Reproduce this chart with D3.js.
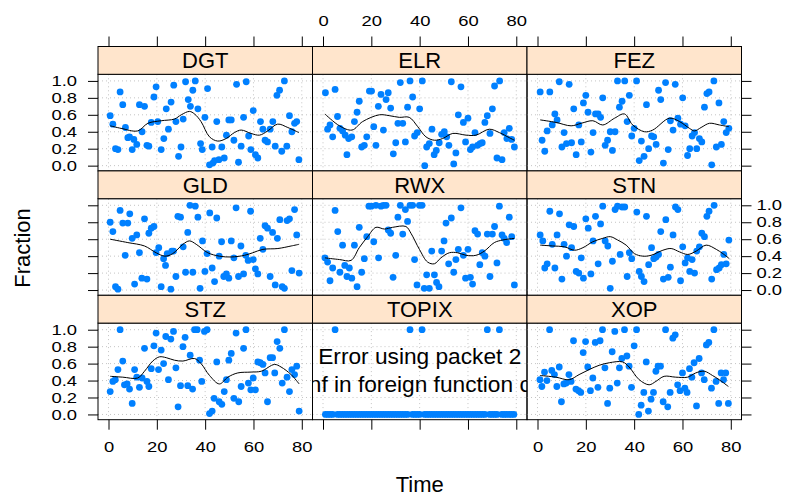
<!DOCTYPE html>
<html><head><meta charset="utf-8">
<script src="https://cdn.jsdelivr.net/npm/d3@7"></script>
<style>
body{margin:0;background:#fff}
svg{display:block}
text{font-family:"Liberation Sans",Arial,Helvetica,sans-serif;fill:#000}
</style>
</head><body>
<svg id="chart" width="793" height="496"></svg>
<script>
// ---- data: [Time, Fraction] per ticker, plus the smoothed trend for each ----
const panelNames = ["DGT","ELR","FEZ","GLD","RWX","STN","STZ","TOPIX","XOP"];
const xTicks = [0,20,40,60,80];
const yTicks = [0,0.2,0.4,0.6,0.8,1.0];

const dgtPoints = [[0.7,.59],[1.8,.49],[2.9,.20],[3.9,.19],[4.8,.87],[5.9,.72],[7,.45],[8,.33],[8.7,.34],[9.8,.19],[10.5,.31],[11.7,.25],[12.8,.72],[13.9,.40],[14.9,.70],[15.9,.24],[16.7,.23],[17.7,.51],[18.8,.81],[19.7,.93],[20.4,.52],[21.8,.19],[22.9,.32],[23.9,.67],[24.8,.43],[25.9,.75],[27,.95],[27.9,.52],[29,.11],[30,.22],[30.9,.55],[31.9,.99],[33,.78],[33.9,.70],[34.9,.89],[35.9,1.0],[37,.67],[38.1,.26],[38.8,.19],[39.9,.57],[41,.91],[41.8,.01],[42.9,.22],[43.2,.03],[43.9,.06],[44.8,.52],[45.7,.07],[46.9,.22],[47.9,.09],[48.8,.36],[49.8,.54],[50.8,.54],[51.9,.30],[53,.96],[53.8,.04],[54.9,.23],[55.9,.57],[57,.99],[58,.35],[58.9,.19],[59.9,.65],[60.8,.13],[61.8,.09],[62.9,.52],[63.9,.43],[64.8,.30],[65.8,.28],[66.9,.43],[68,.52],[69,.23],[69.7,.83],[70.8,.89],[71.7,.17],[72.8,1.0],[73.8,.23],[74.9,.59],[75.9,.40],[77,.50],[77.9,.52],[78.8,.07]];
const dgtSmooth = [[0.7,.47],[5.2,.44],[12.1,.41],[16.3,.50],[21.8,.53],[27.3,.55],[30.1,.60],[33.5,.64],[35.6,.61],[38.3,.52],[41.8,.34],[45.2,.29],[48.7,.32],[52.1,.39],[54.9,.42],[59,.38],[62.5,.36],[65.9,.41],[70,.49],[74.2,.45],[78.8,.39]];

const elrPoints = [[1,.86],[1.9,.43],[2.9,.48],[4,.34],[5,.90],[6,.58],[7,.44],[8.1,.41],[9.2,.36],[9.9,.13],[10.6,.32],[11.9,.34],[13,.52],[14.1,.63],[15,.76],[16,.22],[17.1,.24],[18.1,.34],[19.2,.88],[20.1,.88],[21,.46],[21.9,.24],[22.9,.70],[24,.84],[25,.42],[26.1,.78],[27,.86],[28,.68],[29.1,.14],[30.1,.27],[31,.50],[32,.98],[33,.50],[34.1,.28],[35,.69],[36,1.0],[37.1,.81],[37.9,.35],[39,.39],[40,.67],[41.1,1.0],[42.1,0],[42.9,.22],[44,.26],[45.1,.43],[46,.13],[46.9,.18],[48.1,.27],[49.1,.37],[50.2,.40],[51.2,.34],[52.1,.24],[53.1,.99],[54.1,.02],[55,.15],[56,.60],[57.1,.93],[58.1,.51],[59,.28],[60,.56],[61,.19],[61.9,.22],[62.9,.39],[64,.24],[65,.26],[65.9,.27],[67,.51],[68,.59],[69.1,.38],[70.1,.67],[71,.94],[72,.09],[73.1,1.0],[74.1,.07],[75,.39],[76.1,.32],[77.1,.44],[78.1,.31],[79.2,.22]];
const elrSmooth = [[0.8,.61],[6.8,.47],[12,.42],[16.4,.52],[23.3,.60],[27.4,.59],[31.6,.57],[35.7,.57],[39.2,.46],[42.6,.34],[46.1,.30],[49.5,.32],[53.7,.38],[59.2,.36],[63.3,.36],[68.8,.43],[73,.39],[77.1,.33],[79.2,.30]];

const fezPoints = [[1.1,.87],[1.9,.30],[3,.17],[4,.41],[5.1,.87],[6.1,.48],[7.2,.61],[8.1,.54],[9,.99],[10.1,.22],[11,.39],[12,.26],[13.1,.96],[14.1,.27],[15,.67],[16,.13],[17.1,.48],[18.1,.28],[19,.74],[20,.83],[20.9,.63],[22.1,.16],[23,.39],[24,.61],[25.1,.61],[26.1,.57],[27,.80],[28,.24],[29,.30],[30.1,.40],[31,.18],[32.1,.40],[33.1,1.0],[33.9,.69],[35,.76],[36.1,1.0],[37.1,.52],[38,.83],[39,.35],[40,.44],[41,1.0],[42.1,.06],[43,.29],[44.1,.11],[45.1,.72],[46,.20],[47.2,.35],[48.1,.34],[49.1,.25],[50.1,.89],[51,.78],[52.1,.03],[53,.98],[54.1,.19],[55,.53],[56.1,.42],[57,.96],[58.1,.56],[59.2,.49],[60.1,.80],[61.1,.47],[62.1,.12],[63,.20],[64,.35],[65,.39],[65.9,.20],[67,.32],[68,.28],[69.1,.69],[70.1,.85],[71,.87],[72.1,.01],[73,1.0],[74,.22],[75.1,.74],[76.1,.25],[77.1,.52],[78.1,.39],[79.2,.44]];
const fezSmooth = [[1.1,.54],[7.7,.51],[13.9,.47],[18.1,.50],[22.9,.53],[27,.48],[31.9,.56],[36,.61],[39.4,.48],[44.3,.40],[47.7,.42],[54.6,.56],[58.8,.52],[62.9,.44],[65,.41],[67.7,.45],[71.2,.50],[75.3,.48],[79.2,.46]];

const gldPoints = [[0.7,.80],[1.8,.69],[2.9,.04],[3.9,.01],[4.8,.94],[5.9,.79],[6.9,.41],[8,.79],[8.8,.90],[9.8,.61],[10.8,.07],[11.7,.65],[12.8,.44],[13.8,.14],[14.9,.84],[15.9,.13],[16.7,.67],[17.7,.73],[18.8,.75],[19.7,.44],[20.8,.50],[21.8,.04],[22.8,.37],[23.6,.29],[24.3,.43],[25.8,.01],[26.2,.46],[26.9,.46],[27.9,.16],[28.7,.87],[29.8,.86],[30.9,.51],[31.9,.21],[32.8,.68],[33.7,1.0],[34.9,.21],[35.9,.99],[37,.86],[37.9,.02],[38.9,.58],[39.9,.22],[40.8,.43],[41.9,.91],[42.9,.26],[43.9,.10],[44.8,.85],[45.8,.40],[46.8,.57],[47.7,.16],[48.8,.19],[49.8,.14],[50.8,.58],[51.9,.38],[52.8,.97],[53.8,.16],[54.8,.52],[55.9,.19],[56.8,.41],[57.8,.35],[58.8,.93],[59.9,.36],[60.8,.25],[61.8,.19],[62.8,.61],[63.9,.48],[64.8,.76],[65.8,.73],[66.9,.16],[67.9,.68],[69,.06],[69.9,.61],[70.9,.83],[71.9,.04],[72.8,.02],[73.9,.82],[74.9,.84],[75.9,.23],[77,.95],[77.9,.65],[78.9,.20]];
const gldSmooth = [[0.7,.60],[8,.56],[14.9,.52],[19.7,.44],[23.4,.40],[26.6,.43],[30.8,.54],[33.5,.58],[36.3,.54],[41.1,.44],[45.9,.40],[50.8,.39],[56.3,.41],[59.7,.44],[63.9,.48],[70.1,.49],[75.6,.52],[78.9,.54]];

const rwxPoints = [[0.8,.38],[1.9,.33],[2.9,.11],[4,.26],[5,.94],[6.1,.69],[7,.21],[8.1,.53],[9,.29],[9.9,.16],[10.9,.26],[11.9,.14],[13,.53],[14.1,.04],[15,.74],[16,.21],[17.1,.37],[18.1,.63],[19,.99],[20,.99],[21,.57],[21.9,1.0],[23,.38],[24,.99],[25,1.0],[26.1,1.0],[27,.71],[28,.67],[29,.15],[30.1,.41],[31,.86],[32,1.0],[33,.66],[34.1,.95],[35,.81],[36,1.0],[37.1,1.0],[37.9,.36],[38.9,.06],[39.9,1.0],[41,1.0],[41.9,.02],[42.9,.18],[44,.02],[45,.46],[46.1,.18],[47,.09],[48,.04],[49.1,.46],[50.1,.58],[50.9,.79],[52,.31],[53.1,.85],[54.1,.21],[55,.36],[56,.48],[57.1,.97],[58.1,.41],[59,.14],[60,.48],[61,.15],[61.9,.07],[62.9,.70],[64,.66],[64.9,.30],[65.9,.44],[67,.40],[68,.66],[69.1,.16],[70.1,.66],[71,.75],[72,.32],[73,.99],[74.1,.65],[75,.61],[76,.56],[77.1,.86],[78.1,.63],[79.2,.06]];
const rwxSmooth = [[0.8,.38],[6.8,.36],[11.6,.35],[15,.50],[18.5,.63],[21.9,.74],[25.4,.72],[28.8,.74],[34.3,.75],[36.4,.67],[39.9,.48],[43.3,.33],[46.1,.31],[48.8,.38],[52.3,.44],[55.7,.44],[59.2,.41],[63.3,.41],[66.8,.46],[70.9,.56],[74.3,.59],[79.2,.61]];

const stnPoints = [[1.1,.65],[2.2,.58],[3,.26],[4,.31],[5.1,.93],[6.1,.54],[7.2,.26],[8.1,.65],[9.1,.90],[10.1,.13],[11,.54],[12,.40],[13.1,.77],[14.1,.50],[15,.75],[16,.22],[17.1,.20],[18.1,.38],[19,.14],[20,.84],[21,.73],[22.1,.19],[23,.58],[24,.87],[25.1,.31],[26.1,.78],[27,.99],[28,.58],[29.1,.52],[30.1,.02],[31,.34],[32.1,.95],[33.1,.99],[34.2,.42],[35,.98],[36.1,.98],[37.1,.16],[38,.44],[39,.37],[41.1,.92],[42.1,.22],[43,.16],[44.1,.10],[45.1,.87],[46,.30],[47.2,.50],[48.1,.37],[49.1,.39],[50.1,.42],[51,.69],[52.1,.13],[53.1,.83],[54.1,.15],[55,.27],[56.1,.65],[57.1,.98],[58.1,.95],[59.2,.11],[60.1,.51],[61.1,.32],[62.1,.38],[63,.22],[64,.36],[65,.20],[65.9,.46],[67,.51],[68,.67],[69.1,.63],[70.1,.87],[71,.93],[72.1,.13],[73.1,1.0],[74.1,.24],[75.2,.26],[76.1,.30],[77.1,.42],[78.1,.31],[79.2,.59]];
const stnSmooth = [[1.1,.53],[6.3,.52],[11.2,.51],[15.3,.47],[18.8,.50],[22.9,.57],[27,.61],[30.1,.63],[33.2,.59],[36.7,.53],[40.1,.43],[43.6,.40],[47,.41],[51.9,.47],[55.3,.49],[58.8,.45],[62.2,.42],[65.7,.46],[69.8,.53],[74,.48],[76.7,.43],[79.4,.37]];

const stzPoints = [[0.7,.27],[1.8,.39],[2.8,.41],[3.9,.53],[4.8,1.0],[5.9,.63],[6.6,.35],[7.7,.36],[8.7,.30],[9.8,.13],[10.8,.53],[11.7,.44],[12.8,.32],[13.9,.43],[14.9,.78],[15.9,.39],[16.7,.33],[17.7,.54],[18.8,.81],[19.7,.96],[20.7,.53],[21.8,.76],[22.8,.60],[23.7,.92],[24.8,.41],[25.8,.89],[26.9,.98],[27.9,.55],[28.8,.09],[29.8,.34],[30.8,.80],[31.7,.91],[32.8,.34],[33.8,.70],[34.8,.30],[35.6,1.0],[36.7,1.0],[37.7,.64],[38.6,.39],[39.7,.98],[40.8,1.0],[41.8,.01],[42.9,.04],[43.7,.19],[44.8,.62],[45.8,.15],[46.9,.12],[47.9,.27],[48.8,.41],[49.8,.64],[50.8,.72],[51.9,.19],[52.8,.96],[53.9,.15],[54.9,.33],[55.9,.78],[56.9,1.0],[57.9,.37],[58.9,.29],[59.9,.43],[60.8,.29],[61.8,.62],[62.8,.61],[63.9,.59],[64.8,.49],[65.8,.15],[66.9,.67],[67.9,.67],[68.8,.49],[69.8,.86],[70.9,.78],[71.9,.37],[72.8,1.0],[73.9,.44],[74.9,.27],[75.9,.53],[77,.47],[77.9,.57],[78.9,.04]];
const stzSmooth = [[0.7,.45],[5.9,.44],[12.1,.43],[14.9,.51],[18.3,.63],[21.1,.68],[23.9,.67],[27.3,.64],[30.8,.63],[35.6,.66],[38.3,.60],[41.8,.46],[45.9,.36],[49.4,.44],[53.5,.49],[59,.50],[63.2,.51],[68.7,.59],[71.4,.56],[75.6,.47],[78.9,.36]];

// TOPIX: one value per Time step 1..79
const topixValues = [
  0,0,0,0,1,0,0,0,0,0,
  0,0,0,0,0,0,0,0,0,0,
  0,0,0,0,0,0,0,0,0,0,
  0,0,0,0,0,1,0,0,0,0,
  1,0,0,0,0,0,0,0,0,0,
  0,0,0,0,0,0,0,0,0,0,
  0,0,0,0,0,0,0,1,0,0,
  0,0,1,0,0,0,0,0,0];
const topixError = ["Error using packet 2", "NA/NaN/Inf in foreign function call (arg 2)"];

const xopPoints = [[1,.41],[1.8,.33],[2.9,.50],[3.9,.40],[5,1.0],[5.9,.52],[7,.47],[8,.33],[9,.56],[9.9,.15],[10.9,.36],[11.9,.37],[13,.47],[13.9,.39],[14.9,.87],[15.9,.30],[17,.28],[17.9,.26],[18.9,.73],[19.9,.86],[20.8,.56],[21.9,.28],[22.9,.43],[23.9,.85],[25,.32],[25.9,.87],[26.9,1.0],[27.9,.55],[29,.13],[29.9,.31],[30.9,.74],[32,.98],[33,.37],[33.9,.55],[34.9,.66],[36,1.0],[37,.69],[37.9,.57],[38.9,.32],[40,.81],[41,1.0],[41.9,0],[42.9,.11],[44,.26],[45,.62],[45.9,.04],[47,.18],[48,.26],[49,.51],[49.9,.57],[50.9,.57],[52,.15],[53,1.0],[53.9,.09],[54.9,.26],[56,.90],[57,.94],[58,.35],[59,.28],[60,.49],[61,.31],[61.9,.26],[62.9,.54],[63.9,.44],[64.8,.61],[65.8,.10],[66.9,.66],[67.9,.49],[69,.41],[69.9,.82],[70.9,.85],[72,.31],[73,1.0],[73.9,.39],[75,.13],[76,.49],[77,.41],[77.9,.49],[79,.13]];
const xopSmooth = [[1,.46],[7.6,.44],[13.1,.41],[17.2,.47],[21.4,.53],[25.5,.58],[29.7,.61],[35.2,.62],[37.9,.56],[42.1,.41],[46.2,.35],[49,.39],[52.4,.45],[57.2,.44],[62.1,.44],[65.5,.49],[69,.51],[72.4,.46],[75.2,.41],[79,.33]];

// ---- panel table ----
const panels = [
  {name:"DGT", pts:dgtPoints, smooth:dgtSmooth},
  {name:"ELR", pts:elrPoints, smooth:elrSmooth},
  {name:"FEZ", pts:fezPoints, smooth:fezSmooth},
  {name:"GLD", pts:gldPoints, smooth:gldSmooth},
  {name:"RWX", pts:rwxPoints, smooth:rwxSmooth},
  {name:"STN", pts:stnPoints, smooth:stnSmooth},
  {name:"STZ", pts:stzPoints, smooth:stzSmooth},
  {name:"TOPIX", pts:topixValues.map((v,i)=>[i+1,v]), smooth:null, error:topixError},
  {name:"XOP", pts:xopPoints, smooth:xopSmooth}
];

// ---- layout ----
const gridLeft = 98, colW = 214.5, rowTop0 = 46.5, rowStep = 124.4, stripH = 27.8, panelH = 96.6;
const nCol = 3, nRow = 3;
const tickLen = 10;
const axisFont = 14.5, axisStretch = 1.27, stripFont = 22, titleFont = 22, errorFont = 22.7;

const svg = d3.select("#chart");
const x = d3.scaleLinear().domain([-4.35, 84.43]).range([0, colW]);
const y = d3.scaleLinear().domain([-0.062, 1.078]).range([panelH, 0]);
const fmtY = d3.format(".1f");

const defs = svg.append("defs");

// tick labels use a wide set: stretch glyphs horizontally about their anchor
const styleAxis = sel => {
  sel.select(".domain").remove();
  sel.selectAll(".tick line").attr("stroke", "#000");
  sel.selectAll(".tick text").each(function() {
    const t = d3.select(this);
    const tx = +t.attr("x") || 0;
    t.attr("x", 0)
      .attr("transform", `translate(${tx},0) scale(${axisStretch},1)`)
      .style("font-size", axisFont + "px")
      .style("font-family", '"Liberation Sans",Arial,sans-serif')
      .attr("fill", "#000");
  });
};

panels.forEach((p, i) => {
  const col = i % nCol, row = Math.floor(i / nCol);
  const gx = gridLeft + col * colW;
  const stripTop = rowTop0 + row * rowStep;
  const panelTop = stripTop + stripH;

  const clipId = "clip" + i;
  defs.append("clipPath").attr("id", clipId)
    .append("rect").attr("width", colW).attr("height", panelH);

  const g = svg.append("g").attr("transform", `translate(${gx},${panelTop})`);
  const inner = g.append("g").attr("clip-path", `url(#${clipId})`);

  // reference grid
  inner.selectAll("line.gv").data(xTicks).join("line")
    .attr("x1", d => x(d)).attr("x2", d => x(d)).attr("y1", 0).attr("y2", panelH)
    .attr("stroke", "#c4c4c4").attr("stroke-dasharray", "1,3");
  inner.selectAll("line.gh").data(yTicks).join("line")
    .attr("x1", 0).attr("x2", colW).attr("y1", d => y(d)).attr("y2", d => y(d))
    .attr("stroke", "#c4c4c4").attr("stroke-dasharray", "1,3");

  // observations
  inner.selectAll("circle").data(p.pts).join("circle")
    .attr("cx", d => x(d[0])).attr("cy", d => y(d[1])).attr("r", 3.4)
    .attr("fill", "#0080ff");

  // smoothed trend
  if (p.smooth) {
    inner.append("path").datum(p.smooth)
      .attr("d", d3.line().x(d => x(d[0])).y(d => y(d[1])).curve(d3.curveCatmullRom.alpha(0.5)))
      .attr("fill", "none").attr("stroke", "#000").attr("stroke-width", 1);
  }

  // error message from the failed smoother
  if (p.error) {
    inner.selectAll("text.err").data(p.error).join("text")
      .attr("x", colW / 2).attr("y", (d, k) => 40.6 + k * 28.3)
      .attr("text-anchor", "middle").style("font-size", errorFont + "px").text(d => d);
  }

  g.append("rect").attr("width", colW).attr("height", panelH)
    .attr("fill", "none").attr("stroke", "#000").attr("stroke-width", 1);

  // strip
  const s = svg.append("g").attr("transform", `translate(${gx},${stripTop})`);
  s.append("rect").attr("width", colW).attr("height", stripH)
    .attr("fill", "#ffe5cc").attr("stroke", "#000").attr("stroke-width", 1);
  s.append("text").attr("x", colW / 2).attr("y", stripH / 2).attr("dy", "0.36em")
    .attr("text-anchor", "middle").style("font-size", stripFont + "px").text(p.name);

  // axes, alternating labels in the lattice style
  if (col === 0) {
    const a = d3.axisLeft(y).tickValues(yTicks).tickSize(tickLen).tickPadding(11)
      .tickFormat(row === 1 ? "" : fmtY);
    g.append("g").call(a).call(styleAxis);
  }
  if (col === nCol - 1) {
    const a = d3.axisRight(y).tickValues(yTicks).tickSize(tickLen).tickPadding(5)
      .tickFormat(row === 1 ? fmtY : "");
    g.append("g").attr("transform", `translate(${colW},0)`).call(a).call(styleAxis);
  }
  if (row === 0) {
    const a = d3.axisTop(x).tickValues(xTicks).tickSize(tickLen).tickPadding(10.5)
      .tickFormat(col === 1 ? d3.format("d") : "");
    svg.append("g").attr("transform", `translate(${gx},${stripTop})`).call(a).call(styleAxis);
  }
  if (row === nRow - 1) {
    const a = d3.axisBottom(x).tickValues(xTicks).tickSize(tickLen).tickPadding(12.5)
      .tickFormat(col === 1 ? "" : d3.format("d"));
    g.append("g").attr("transform", `translate(0,${panelH})`).call(a).call(styleAxis);
  }
});

// axis titles
svg.append("text").attr("x", gridLeft + nCol * colW / 2).attr("y", 492)
  .attr("text-anchor", "middle").style("font-size", titleFont + "px").text("Time");
svg.append("text").attr("transform", "translate(30,248) rotate(-90)")
  .attr("text-anchor", "middle").style("font-size", titleFont + "px").text("Fraction");
</script>
</body></html>
